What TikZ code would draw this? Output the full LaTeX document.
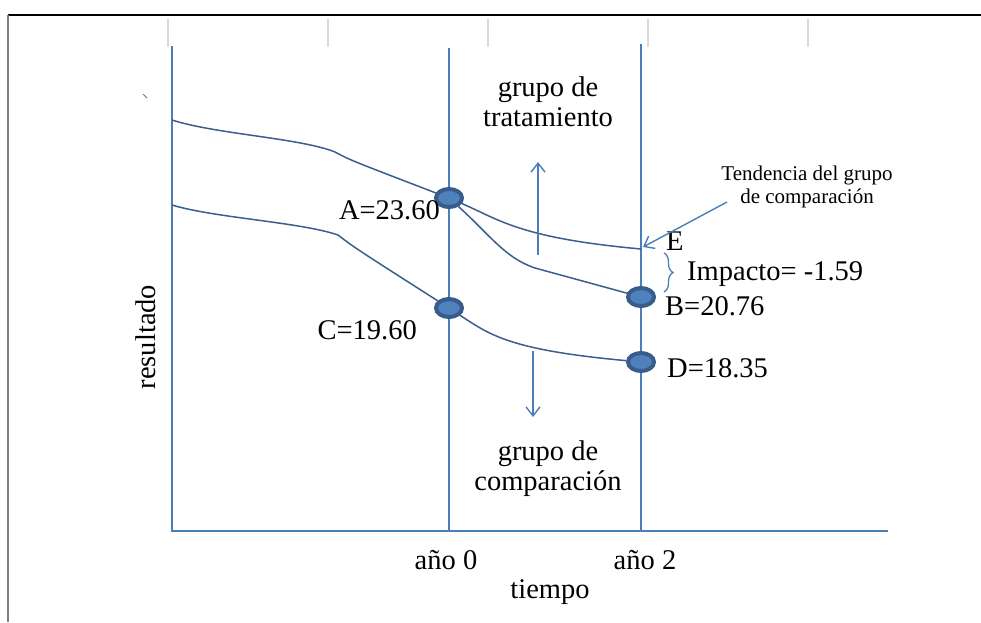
\documentclass[tikz,border=0pt]{standalone}
\usepackage{fontspec}
\setmainfont{Liberation Serif}
\usepackage{tikz}
\usetikzlibrary{arrows.meta,shapes.geometric,decorations.pathreplacing}
\definecolor{axisblue}{HTML}{4A7EBB}
\definecolor{curveblue}{HTML}{3A5E8E}
\definecolor{dotfill}{HTML}{4F81BD}
\definecolor{dotedge}{HTML}{385D8A}
\tikzset{
  axis/.style={axisblue, line width=1.5pt},
  trend/.style={curveblue, line width=1.5pt},
  pointer/.style={axisblue, line width=1.4pt, ->},
  dot/.style={ellipse, draw=dotedge, fill=dotfill, line width=4pt,
    minimum width=26pt, minimum height=18pt, inner sep=0pt},
  lbl/.style={font=\fontsize{28.5}{30}\selectfont, inner sep=1pt},
  small/.style={font=\fontsize{21}{23}\selectfont, align=center, inner sep=1pt}
}

\begin{document}
\begin{tikzpicture}[x=1pt, y=-1pt, >={Straight Barb[length=9pt, width=14pt]}]
	\useasboundingbox (0,0) rectangle (981,622);
	% frame of the page
	\draw[black, line width=1.6pt] (8,15) -- (981,15);
	\draw[gray, line width=1.2pt] (8,15) -- (8,622);
	\foreach \x in {168,328,488,648,808}
		\draw[black!15, line width=1.2pt] (\x,19) -- (\x,47);
	\draw[axisblue, line width=1pt] (143,94) -- (147,98);
	% axes
	\coordinate (O) at (172,531);
	\coordinate (Ytop) at (172,46);
	\coordinate (Xend) at (888,531);
	\draw[axis] (Ytop) -- (O) -- (Xend);
	\coordinate (T0top) at (449,48);
	\coordinate (T0) at (449,531);
	\coordinate (T2top) at (641,44);
	\coordinate (T2) at (641,531);
	\draw[axis] (T0top) -- (T0);
	\draw[axis] (T2top) -- (T2);
	% points
	\coordinate (P1) at (172,120);
	\coordinate (P2) at (172,205);
	\coordinate (K1) at (335,152);
	\coordinate (K2) at (338,235);
	\coordinate (E) at (641,249);
	\node[dot] (A) at (449,198) {};
	\node[dot] (C) at (449,308) {};
	\node[dot] (B) at (641,297) {};
	\node[dot] (D) at (641,362) {};
	% trends
	\draw[trend] (P1) .. controls (215,134) and (300,138) .. (K1)
		.. controls (350,160) .. (A);
	\draw[trend] (P2) .. controls (215,218) and (300,222) .. (K2)
		.. controls (355,248) .. (C);
	\draw[trend] (A) .. controls (500,220) and (520,238) .. (E);
	\draw[trend] (A) .. controls (490,235) and (505,258) .. (535,268) -- (B);
	\draw[trend] (C) .. controls (490,335) and (510,350) .. (D);
	% labels of points
	\node[lbl, anchor=east] at (441,210) {A=23.60};
	\node[lbl, anchor=east] at (418,330) {C=19.60};
	\node[lbl, anchor=west] at (664,306) {B=20.76};
	\node[lbl, anchor=west] at (666,368) {D=18.35};
	\node[lbl, anchor=west] (Elbl) at (665,241) {E};
	% impact
	\draw[axisblue, line width=1.3pt, decorate,
		decoration={brace, amplitude=9pt, raise=0pt}] (664,253) -- (664,292);
	\node[lbl, anchor=west] (imp) at (686,274) {Impacto= -1.59};
	% comparison trend note
	\node[small] (note) at (807,187) {Tendencia del grupo\\de comparación};
	\coordinate (noteTail) at (727,202);
	\draw[pointer] (noteTail) -- (643,247);
	% group arrows
	\node[lbl, align=center] (treat) at (548,102) {grupo de\\tratamiento};
	\node[lbl, align=center] (comp) at (548,469) {grupo de\\comparación};
	\draw[pointer] (538,255) -- (538,162);
	\draw[pointer] (533,351) -- (533,417);
	% axis labels
	\node[lbl] at (446,560) {año 0};
	\node[lbl] at (645,560) {año 2};
	\node[lbl] at (550,592) {tiempo};
	\node[lbl, rotate=90] at (146,337) {resultado};
\end{tikzpicture}
\end{document}
